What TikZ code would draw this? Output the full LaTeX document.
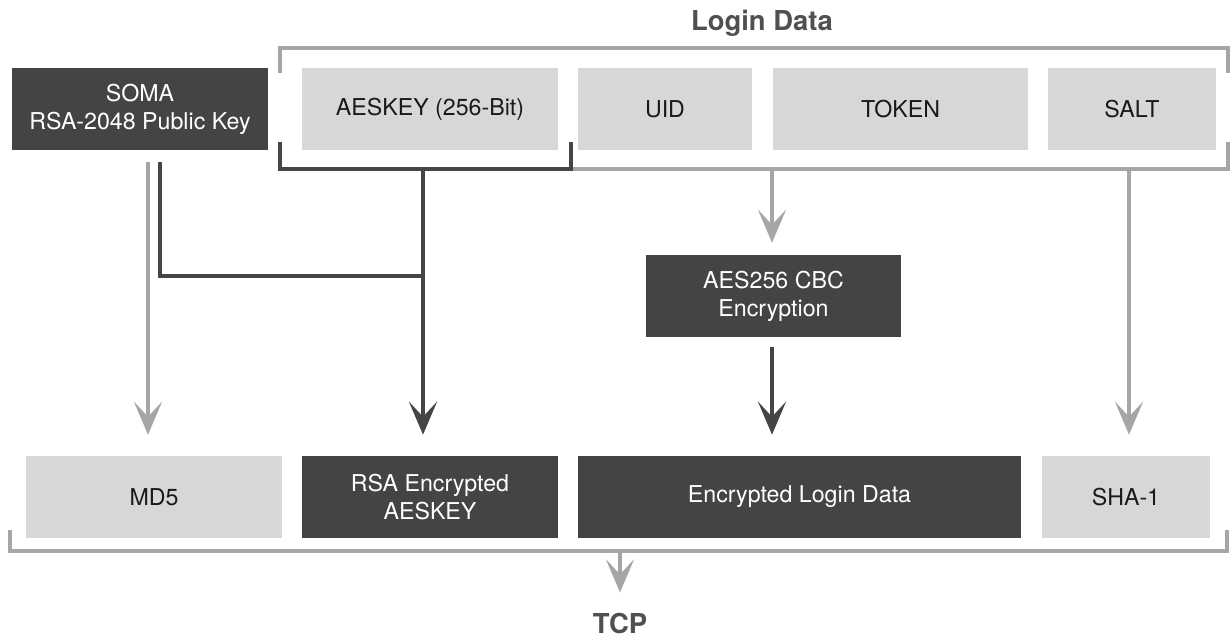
\documentclass[tikz,border=0pt]{standalone}
\usepackage{fontspec}
\setmainfont{TeX Gyre Heros}
\usetikzlibrary{arrows.meta,calc,positioning}
\definecolor{boxdark}{HTML}{444444}
\definecolor{boxlight}{HTML}{D7D7D7}
\definecolor{linegray}{HTML}{A6A6A6}
\definecolor{linedark}{HTML}{454545}
\definecolor{titlegray}{HTML}{505050}
\newcommand{\boxfont}{\fontsize{16.5}{20}\selectfont}
\newcommand{\titlefont}{\fontsize{19.5}{23}\selectfont\bfseries}
\tikzset{
  every node/.style={font=\boxfont},
  lightbox/.style={fill=boxlight,text=black!90,minimum width=#1,minimum height=20.5mm,
                   inner sep=0pt,align=center},
  lightbox/.default=64mm,
  darkbox/.style={lightbox=#1,fill=boxdark,text=white},
  darkbox/.default=64mm,
  title/.style={font=\titlefont,text=titlegray,inner sep=0pt,anchor=base},
  bracket/.style={line width=0.85mm,draw=linegray},
  darkbracket/.style={line width=0.85mm,draw=linedark},
  tip/.style={-{Stealth[length=8.25mm,width=7mm,inset=3.75mm]}},
  garrow/.style={tip,line width=1mm,draw=linegray,fill=linegray},
  darrow/.style={tip,line width=1mm,draw=linedark,fill=linedark},
  dline/.style={line width=1mm,draw=linedark},
}

\begin{document}
\begin{tikzpicture}[x=0.25mm,y=-0.25mm]
  \useasboundingbox (0,0) rectangle (1231,638);

  % ---------- top row ----------
  \node[title] (login) at (762,30) {Login Data};
  \node[darkbox] (soma) at (140,109) {SOMA\\RSA-2048 Public Key};
  \node[lightbox] (aeskey) at (430,109) {AESKEY (256-Bit)};
  \node[lightbox=43.5mm] (uid) at (665,109) {UID};
  \node[lightbox=63.75mm] (token) at (900.5,109) {TOKEN};
  \node[lightbox=42mm] (salt) at (1132,109) {SALT};

  % ---------- brackets ----------
  \coordinate (ld-nw) at (280,48);
  \coordinate (ld-ne) at (1228,48);
  \coordinate (ld-sw) at (280,169);
  \coordinate (ld-se) at (1228,169);
  \coordinate (ak-se) at (571,169);
  \draw[bracket] ($(ld-nw)+(0,25)$) -- (ld-nw) -- (ld-ne) -- ++(0,25);
  \draw[bracket] ($(ld-sw)+(0,-27)$) -- (ld-sw) -- (ld-se) -- ++(0,-27);
  \draw[darkbracket] ($(ld-sw)+(0,-27)$) -- (ld-sw) -- (ak-se) -- ++(0,-27);

  % ---------- middle ----------
  \node[darkbox=63.75mm] (aes) at (773.5,296) {AES256 CBC\\Encryption};

  % ---------- bottom row ----------
  \node[lightbox] (md5) at (154,497) {MD5};
  \node[darkbox] (rsakey) at (430,497) {RSA Encrypted\\AESKEY};
  \node[darkbox=110.75mm] (encdata) at (799.5,497) {Encrypted Login Data};
  \node[lightbox=42mm] (sha) at (1126,497) {SHA-1};
  \node[title] (tcp) at (620,633) {TCP};

  \coordinate (tc-sw) at (10,551);
  \coordinate (tc-se) at (1227,551);
  \draw[bracket] ($(tc-sw)+(0,-21)$) -- (tc-sw) -- (tc-se) -- ++(0,-21);

  % ---------- connectors ----------
  \coordinate (somaout) at ($(soma.south)+(8,12)$);
  \coordinate (somakey) at ($(soma.south)+(20,12)$);
  \coordinate (keyout) at (423,169);
  \coordinate (merge) at (423,276);
  \coordinate (ldout) at (772,169);
  \coordinate (saltout) at (1129,169);
  \coordinate (tcpout) at (620,551);

  \draw[garrow,shorten >=5.25mm] (somaout) -- (somaout |- md5.north);
  \draw[dline] (somakey) |- (merge);
  \draw[darrow,shorten >=5.25mm] (keyout) -- (keyout |- rsakey.north);
  \draw[garrow,shorten >=3mm] (ldout) -- (ldout |- aes.north);
  \draw[darrow,shorten <=2.5mm,shorten >=5.25mm] (ldout |- aes.south) -- (ldout |- encdata.north);
  \draw[garrow,shorten >=5.25mm] (saltout) -- (saltout |- sha.north);
  \draw[garrow,shorten >=5mm] (tcpout) -- (tcpout |- tcp.north);
\end{tikzpicture}
\end{document}
